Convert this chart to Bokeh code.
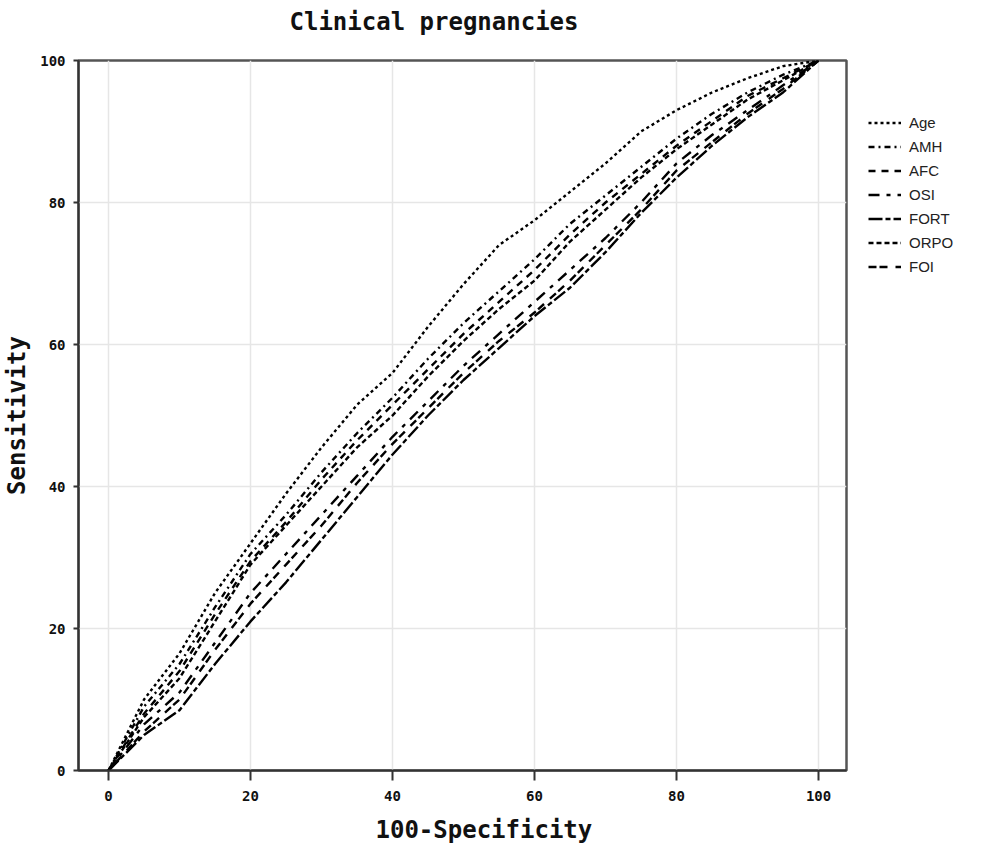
from bokeh.plotting import figure
from bokeh.models import Range1d, FixedTicker, Legend, LegendItem, Title
from bokeh.embed import file_html
from bokeh.resources import INLINE

# 100-Specificity grid
fpr = [0, 5, 10, 15, 20, 25, 30, 35, 40, 45, 50, 55, 60, 65, 70, 75, 80, 85, 90, 95, 100]

age  = [0, 10.0, 16.5, 25.0, 32.0, 39.0, 45.5, 51.5, 56.0, 62.5, 68.5, 74.0, 77.5, 81.5, 85.5, 90.0, 93.0, 95.5, 97.5, 99.2, 100]
amh  = [0, 9.0, 15.0, 23.0, 30.5, 36.0, 42.0, 47.5, 52.5, 58.0, 63.0, 67.5, 72.0, 77.0, 81.0, 85.0, 89.0, 92.5, 95.5, 98.0, 100]
afc  = [0, 8.0, 14.0, 22.0, 29.5, 35.0, 41.0, 46.5, 51.5, 56.5, 61.5, 66.0, 70.5, 75.5, 80.0, 84.0, 88.0, 91.5, 95.0, 97.5, 100]
osi  = [0, 6.5, 11.0, 18.0, 25.0, 30.5, 36.0, 41.5, 47.0, 52.0, 57.0, 61.5, 66.0, 70.5, 75.0, 80.0, 85.5, 89.5, 93.0, 96.5, 100]
fort = [0, 5.0, 8.5, 15.0, 21.0, 26.5, 32.5, 38.5, 44.5, 50.0, 55.0, 59.5, 64.0, 68.0, 73.0, 78.5, 83.5, 88.0, 92.0, 95.5, 100]
orpo = [0, 7.5, 13.0, 21.0, 29.0, 34.5, 40.0, 45.5, 50.0, 55.5, 60.5, 65.0, 69.0, 74.5, 79.0, 83.5, 87.5, 91.0, 94.5, 97.2, 100]
foi  = [0, 5.5, 10.0, 17.0, 23.5, 29.0, 34.5, 40.5, 46.0, 51.0, 56.0, 60.5, 64.5, 69.0, 74.0, 79.0, 84.5, 88.5, 92.5, 96.0, 100]

names = ["Age", "AMH", "AFC", "OSI", "FORT", "ORPO", "FOI"]
series = [age, amh, afc, osi, fort, orpo, foi]
dashes = ["3 3", "6 4 2 4", "7 6", "11 7 4 7", "14 3 5 3", "5 3", "8 3 8 8"]

ticks = [0, 20, 40, 60, 80, 100]

p = figure(frame_width=768, frame_height=710,
           min_border_left=70, min_border_right=131, min_border_top=60, min_border_bottom=68,
           x_range=Range1d(-4.23, 103.94), y_range=Range1d(0, 100),
           output_backend="svg", toolbar_location=None, title=None)

p.background_fill_color = "white"
p.border_fill_color = "white"
p.outline_line_color = "#555555"
p.outline_line_width = 2.5

# spacer between frame and title, then the title itself (outer)
spacer = Title(text=" ", text_font_size="12px", standoff=7)
p.add_layout(spacer, "above")
main_title = Title(text="Clinical pregnancies", align="left", offset=211, standoff=4,
                   text_font="DejaVu Sans Mono", text_font_style="bold",
                   text_font_size="24px", text_color="#111111")
p.add_layout(main_title, "above")

for ax in (p.xaxis[0], p.yaxis[0]):
    ax.ticker = FixedTicker(ticks=ticks)
    ax.minor_tick_line_color = None
    ax.major_tick_in = 0
    ax.axis_line_color = "#333333"
    ax.axis_line_width = 2
    ax.major_tick_line_color = "#333333"
    ax.major_tick_line_width = 2
    ax.major_label_text_font = "DejaVu Sans Mono"
    ax.major_label_text_font_style = "bold"
    ax.major_label_text_font_size = "14px"
    ax.major_label_text_color = "#111111"
    ax.axis_label_text_font = "DejaVu Sans Mono"
    ax.axis_label_text_font_style = "bold"
    ax.axis_label_text_font_size = "24px"
    ax.axis_label_text_color = "#111111"

p.yaxis.axis_label = "Sensitivity"
p.xaxis.major_tick_out = 10
p.yaxis.major_tick_out = 5
p.xaxis.major_label_standoff = 10
p.yaxis.major_label_standoff = 8
p.yaxis.axis_label_standoff = 6

xlabel = Title(text="100-Specificity", align="left", offset=297, standoff=20,
               text_font="DejaVu Sans Mono", text_font_style="bold",
               text_font_size="24px", text_color="#111111")
p.add_layout(xlabel, "below")

p.xgrid.ticker = FixedTicker(ticks=ticks)
p.ygrid.ticker = FixedTicker(ticks=[20, 40, 60, 80, 100])
p.grid.grid_line_color = "#e6e6e6"
p.grid.grid_line_width = 1.5

items = []
for name, ys, d in zip(names, series, dashes):
    r = p.line(fpr, ys, line_color="black", line_width=2.4, line_dash=d)
    items.append(LegendItem(label=name, renderers=[r]))

legend = Legend(items=items, location=(22, 493), orientation="vertical",
                glyph_width=33, glyph_height=21, label_height=21, spacing=3,
                padding=0, margin=0, label_standoff=8,
                label_text_font="Liberation Sans", label_text_font_size="15px",
                label_text_color="#222222",
                border_line_color=None, background_fill_alpha=0)
p.add_layout(legend, "right")

open("out.html", "w").write(file_html(p, INLINE))
